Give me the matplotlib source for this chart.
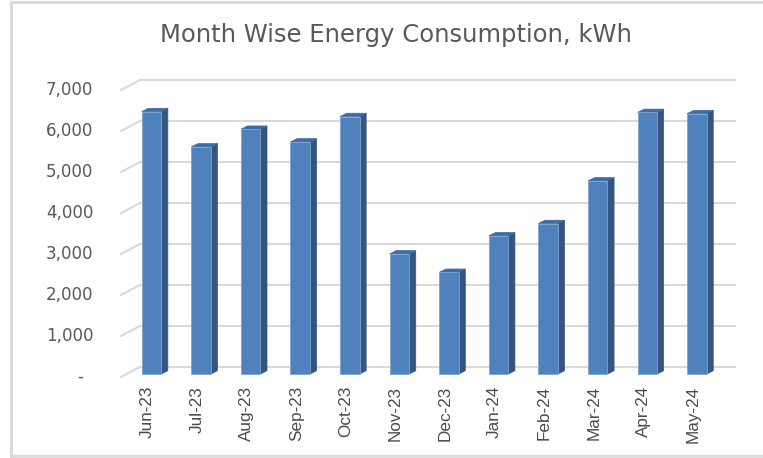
import matplotlib
matplotlib.use("Agg")
import matplotlib.pyplot as plt
from matplotlib.patches import Polygon
from matplotlib.transforms import ScaledTranslation
import numpy as np

# ---- data ----
months = ["Jun-23", "Jul-23", "Aug-23", "Sep-23", "Oct-23", "Nov-23",
          "Dec-23", "Jan-24", "Feb-24", "Mar-24", "Apr-24", "May-24"]
consumption = [6400, 5540, 5970, 5660, 6280, 2930,
               2480, 3370, 3670, 4710, 6380, 6350]
y_ticks = [0, 1000, 2000, 3000, 4000, 5000, 6000, 7000]
y_tick_labels = ["-", "1,000", "2,000", "3,000", "4,000", "5,000", "6,000", "7,000"]
title = "Month Wise Energy Consumption, kWh"

# ---- figure geometry (pixels) ----
W, H, DPI = 763, 458, 100
fig = plt.figure(figsize=(W / DPI, H / DPI), dpi=DPI)
fig.patch.set_facecolor("white")

ax_left_px, ax_right_px = 126.7, 721.7
ax_bottom_px, ax_top_px = 374.0, 87.0  # from top of image
ax = fig.add_axes([ax_left_px / W, (H - ax_bottom_px) / H,
                   (ax_right_px - ax_left_px) / W, (ax_bottom_px - ax_top_px) / H])
ax.set_xlim(-0.5, len(months) - 0.5)
ax.set_ylim(0, 7000)
ax.axis("off")

ppx = (ax_right_px - ax_left_px) / len(months)   # pixels per x unit
ppy = (ax_bottom_px - ax_top_px) / 7000.0          # pixels per y unit

def dx(px):
    return px / ppx

def dy(px):
    return px / ppy

x = np.arange(len(months))
x0, x1 = ax.get_xlim()
grid_c = "#D9D9D9"
text_c = "#595959"

# back wall gridlines + left wall diagonals
back_dx, back_dy = 13.3, 7.0
front_dx, front_dy = -5.7, -3.0
for v in y_ticks:
    ax.plot([x0 + dx(back_dx), x1 + dx(back_dx)], [v + dy(back_dy), v + dy(back_dy)],
            color=grid_c, lw=1.5, clip_on=False, zorder=1)
    ax.plot([x0 + dx(front_dx), x0 + dx(back_dx)], [v + dy(front_dy), v + dy(back_dy)],
            color=grid_c, lw=1.5, clip_on=False, zorder=1)

# 3D bars
bw = 0.393
depth_dx, depth_dy = dx(6.6), dy(3.3)
front_c, side_c, top_c = "#4F81BD", "#34557F", "#3E6BA3"
ax.bar(x, consumption, width=bw, color=front_c, edgecolor="#7FA3CF", linewidth=0.6,
       zorder=4, clip_on=False)
for xi, v in zip(x, consumption):
    xl, xr = xi - bw / 2, xi + bw / 2
    side = Polygon([(xr, 0), (xr, v), (xr + depth_dx, v + depth_dy), (xr + depth_dx, depth_dy)],
                   closed=True, facecolor=side_c, edgecolor=side_c, lw=0.5, zorder=3, clip_on=False)
    top = Polygon([(xl, v), (xr, v), (xr + depth_dx, v + depth_dy), (xl + depth_dx, v + depth_dy)],
                  closed=True, facecolor=top_c, edgecolor=top_c, lw=0.5, zorder=3, clip_on=False)
    ax.add_patch(side)
    ax.add_patch(top)

# y tick labels
for v, lab in zip(y_ticks, y_tick_labels):
    off_x = -33.4 if lab != "-" else -43.7
    tr = ax.transData + ScaledTranslation(off_x / DPI, front_dy / DPI, fig.dpi_scale_trans)
    ax.text(x0, v, lab, transform=tr, ha="right", va="center", fontsize=12,
            color=text_c, family="DejaVu Sans", clip_on=False)

# x tick labels (rotated)
for xi, lab in zip(x, months):
    tr = ax.transData + ScaledTranslation(-4.0 / DPI, -12.0 / DPI, fig.dpi_scale_trans)
    ax.text(xi, 0, lab, transform=tr, rotation=90, ha="center", va="top", fontsize=12.3,
            color="#4A4A4A", family="Liberation Sans", clip_on=False)

# title
fig.text(395.5 / W, (H - 41.7) / H, title, ha="center", va="baseline", fontsize=17.5,
         color=text_c, family="DejaVu Sans")

# chart border (top, left, bottom)
border_c = "#D9D9D9"
fig.add_artist(plt.Line2D([10.5 / W, 1.0], [1 - 1.5 / H, 1 - 1.5 / H], color=border_c, lw=2,
                          transform=fig.transFigure))
fig.add_artist(plt.Line2D([10.5 / W, 10.5 / W], [1 - 1.5 / H, 1 - 455.5 / H], color=border_c, lw=2,
                          transform=fig.transFigure))
fig.add_artist(plt.Line2D([10.5 / W, 1.0], [1 - 455.5 / H, 1 - 455.5 / H], color=border_c, lw=2,
                          transform=fig.transFigure))

fig.savefig("out.png", dpi=DPI, facecolor="white")
